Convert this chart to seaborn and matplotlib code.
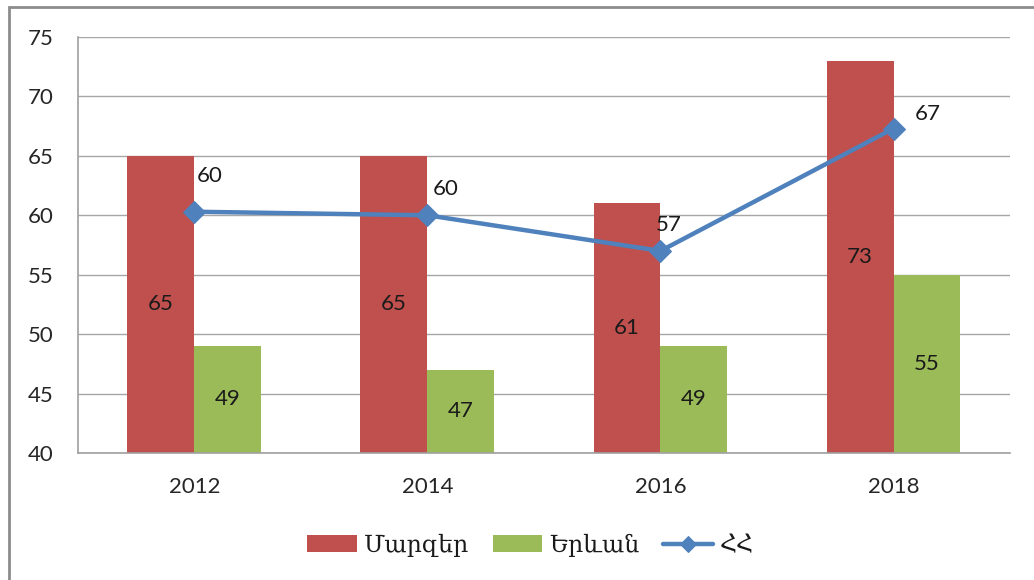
import matplotlib
matplotlib.use("Agg")
import matplotlib.pyplot as plt
from matplotlib.patches import Rectangle
import numpy as np
import pandas as pd
import seaborn as sns

years = ["2012", "2014", "2016", "2018"]
marzer = [65, 65, 61, 73]
yerevan = [49, 47, 49, 55]
hh = [60.3, 60.0, 57.0, 67.3]
hh_labels = ["60", "60", "57", "67"]
# label offsets in pixels (dx, dy) for the line labels
hh_label_offsets = [(15, 36), (18, 26), (8, 26), (34, 15)]

series_names = ["Մարզեր", "Երևան", "ՀՀ"]
bar_colors = ["#C0504D", "#9BBB59"]
line_color = "#4F81BD"
ymin, ymax = 40, 75

sns.set_style("white")
plt.rcParams["font.family"] = ["Lato", "DejaVu Serif"]
plt.rcParams["text.color"] = "#1a1a1a"

df = pd.DataFrame({
    "year": years * 2,
    "value": marzer + yerevan,
    "series": [series_names[0]] * 4 + [series_names[1]] * 4,
})

fig = plt.figure(figsize=(10.34, 5.8), dpi=100)
ax = fig.add_axes([0.0754, 0.219, 0.9014, 0.7172])

sns.barplot(data=df, x="year", y="value", hue="series", palette=bar_colors,
            width=0.575, gap=0, saturation=1, linewidth=0, ax=ax)
sns.lineplot(x=np.arange(len(years)), y=hh, color=line_color, lw=3.2,
             marker="D", markersize=11, markeredgecolor=line_color,
             label=series_names[2], ax=ax, zorder=5)

ax.set_ylim(ymin, ymax)
ax.set_xlim(-0.5, len(years) - 0.5)
ax.set_yticks(np.arange(ymin, ymax + 1, 5))
ax.set_xlabel("")
ax.set_ylabel("")
ax.grid(axis="y", color="#A6A6A6", lw=1)
ax.set_axisbelow(True)
for s in ["top", "right"]:
    ax.spines[s].set_visible(False)
for s in ["left", "bottom"]:
    ax.spines[s].set_color("#A0A0A0")
    ax.spines[s].set_linewidth(1.2)

ax.tick_params(axis="y", length=6.5, width=1, color="#A0A0A0", pad=11, labelsize=16)
ax.set_xticks(np.arange(-0.5, len(years), 1), minor=True)
ax.tick_params(axis="x", which="minor", length=6, width=1, color="#A0A0A0")
ax.tick_params(axis="x", which="major", length=0, pad=17, labelsize=16)

# bar value labels, centred in the visible part of each bar
for p in ax.patches:
    h = p.get_height()
    if h <= 0:
        continue
    ax.text(p.get_x() + p.get_width() / 2, (ymin + h) / 2, f"{h:.0f}",
            ha="center", va="center", fontsize=16)

for i, (v, lab) in enumerate(zip(hh, hh_labels)):
    dx, dy = hh_label_offsets[i]
    ax.annotate(lab, (i, v), xytext=(dx, dy), textcoords="offset pixels",
                ha="center", va="center", fontsize=16)

handles, labels = ax.get_legend_handles_labels()
ax.get_legend().remove()
fig.legend(handles, labels, loc="center", bbox_to_anchor=(0.513, 0.06), ncol=3,
           frameon=False, prop={"family": ["DejaVu Serif"], "size": 17},
           handlelength=2.1, handletextpad=0.3, columnspacing=1.0,
           markerscale=0.75)

fig.add_artist(Rectangle((9 / 1034, -0.2), 1.2, 1.2 - 7 / 580,
                         transform=fig.transFigure, fill=False,
                         edgecolor="#8C8C8C", lw=2))

fig.savefig("out.png", dpi=100)
